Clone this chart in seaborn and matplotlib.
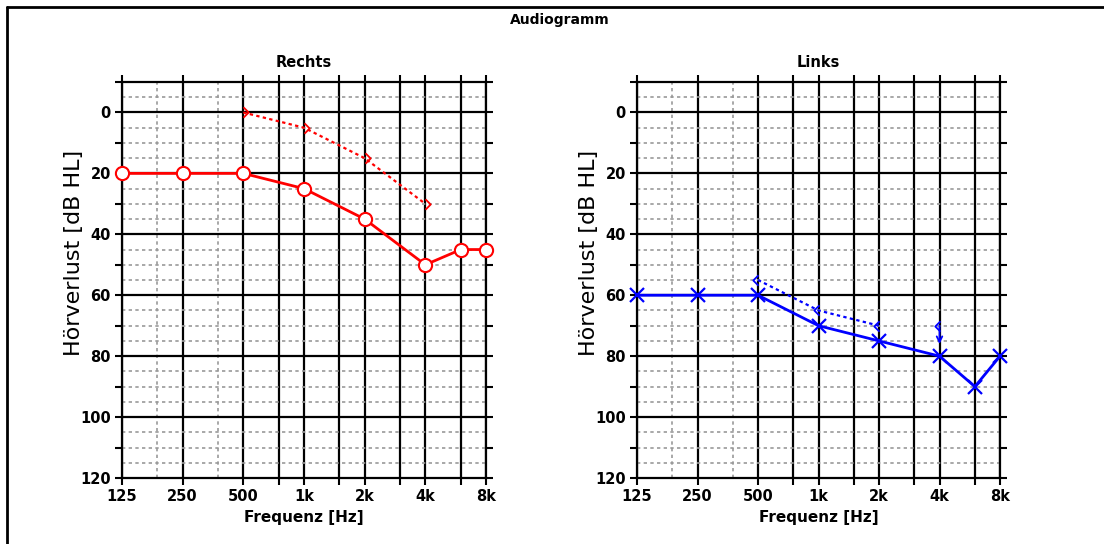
import numpy as np
import matplotlib
matplotlib.use("Agg")
import matplotlib.pyplot as plt
from matplotlib.path import Path
from matplotlib.lines import Line2D
from matplotlib.ticker import NullFormatter
import seaborn as sns

# Audiogram data
freqs = [125, 250, 500, 1000, 2000, 4000, 6000, 8000]
right_air = [20, 20, 20, 25, 35, 50, 45, 45]
left_air = [60, 60, 60, 70, 75, 80, 90, 80]

bone_freqs_r = [500, 1000, 2000, 4000]
right_bone = [0, 5, 15, 30]
bone_freqs_l = [500, 1000, 2000]
left_bone = [55, 65, 70]
# bone conduction, no response (arrow down)
bone_nr_freqs_l = [4000]
left_bone_nr = [70]

tick_freqs = [125, 250, 500, 1000, 2000, 4000, 8000]
tick_labels = ["125", "250", "500", "1k", "2k", "4k", "8k"]
half_octaves = [750, 1500, 3000, 6000]
dotted_freqs = [187.5, 375]

sns.set_style("white")
plt.rcParams['font.family'] = ['DejaVu Sans']
plt.rcParams['text.color'] = 'black'
plt.rcParams['axes.labelcolor'] = 'black'
plt.rcParams['xtick.color'] = 'black'
plt.rcParams['ytick.color'] = 'black'

# chevron markers for bone conduction
chev_right = Path([(0, 1), (1, 0), (0, -1)], [Path.MOVETO, Path.LINETO, Path.LINETO])
chev_left = Path([(0, 1), (-1, 0), (0, -1)], [Path.MOVETO, Path.LINETO, Path.LINETO])

fig = plt.figure(figsize=(11.04, 5.44), dpi=100)
ax_r = fig.add_axes([122 / 1104, 1 - 478 / 544, 364 / 1104, 396 / 544])
ax_l = fig.add_axes([637 / 1104, 1 - 478 / 544, 363 / 1104, 396 / 544])

# frame around the figure (only left and top are visible)
fig.add_artist(Line2D([7 / 1104, 7 / 1104], [0, 1 - 7 / 544], color="black", lw=2))
fig.add_artist(Line2D([7 / 1104, 1], [1 - 7 / 544, 1 - 7 / 544], color="black", lw=2))

fig.text(0.507, 1 - 20 / 544, "Audiogramm", ha="center", va="center",
         fontsize=10, fontweight="bold")


def style_axes(ax, title):
    ax.set_xscale("log", base=2)
    ax.set_xlim(125, 8000)
    ax.set_ylim(120, -10)
    # grid
    for f in tick_freqs + half_octaves:
        ax.axvline(f, color="black", lw=1.6, zorder=1)
    for f in dotted_freqs:
        ax.axvline(f, color="#999999", lw=1.2, dashes=(2, 2), zorder=1)
    for y in range(-5, 120, 5):
        if y % 20 == 0:
            ax.axhline(y, color="black", lw=1.6, zorder=1)
        else:
            ax.axhline(y, color="#999999", lw=1.2, dashes=(2, 2), zorder=1)
    for s in ax.spines.values():
        s.set_color("black")
        s.set_linewidth(1.6)
        s.set_visible(True)
    ax.set_xticks(tick_freqs)
    ax.set_xticklabels(tick_labels)
    ax.set_xticks(half_octaves, minor=True)
    ax.xaxis.set_minor_formatter(NullFormatter())
    ax.set_yticks(range(0, 121, 20))
    ax.set_yticks(range(-10, 121, 10), minor=True)
    ax.yaxis.set_minor_formatter(NullFormatter())
    ax.tick_params(which="both", direction="out", length=5, width=1.5,
                   top=True, right=True, bottom=True, left=True,
                   labelsize=10.5, pad=3)
    for lab in ax.get_xticklabels() + ax.get_yticklabels():
        lab.set_fontweight("bold")
    ax.set_xlabel("Frequenz [Hz]", fontsize=11, fontweight="bold")
    ax.xaxis.set_label_coords(0.5, -0.08)
    ax.set_ylabel("Hörverlust [dB HL]", fontsize=16)
    ax.yaxis.set_label_coords(-0.105, 0.568)
    ax.set_title(title, fontsize=10.5, fontweight="bold", pad=11)


style_axes(ax_r, "Rechts")
style_axes(ax_l, "Links")

# right ear
sns.lineplot(x=freqs, y=right_air, ax=ax_r, color="red", lw=2, marker="o",
             markersize=9.5, markerfacecolor="white", markeredgecolor="red",
             markeredgewidth=1.5, clip_on=False, zorder=5)
sns.lineplot(x=bone_freqs_r, y=right_bone, ax=ax_r, color="red", lw=1.6,
             marker=chev_right, markersize=7.5, markerfacecolor="none",
             markeredgecolor="red", markeredgewidth=1.3, clip_on=False, zorder=4)
ax_r.lines[-1].set_dashes((1.5, 1.5))

# left ear
sns.lineplot(x=freqs, y=left_air, ax=ax_l, color="blue", lw=2, marker="x",
             markersize=10, markeredgecolor="blue", markeredgewidth=1.6,
             clip_on=False, zorder=5)
sns.lineplot(x=bone_freqs_l, y=left_bone, ax=ax_l, color="blue", lw=1.6,
             marker=chev_left, markersize=7.5, markerfacecolor="none",
             markeredgecolor="blue", markeredgewidth=1.3, clip_on=False, zorder=4)
ax_l.lines[-1].set_dashes((1.5, 1.5))
ax_l.plot(bone_nr_freqs_l, left_bone_nr, ls="none", marker=chev_left, markersize=7.5,
          markerfacecolor="none", markeredgecolor="blue", markeredgewidth=1.3, zorder=4)
for f, v in zip(bone_nr_freqs_l, left_bone_nr):
    ax_l.annotate("", xy=(f, v + 6), xytext=(f, v),
                  arrowprops=dict(arrowstyle="->", color="blue", lw=1.3,
                                  shrinkA=0, shrinkB=0), zorder=4)

for ax in (ax_r, ax_l):
    leg = ax.get_legend()
    if leg is not None:
        leg.remove()

fig.savefig("out.png", dpi=100)
